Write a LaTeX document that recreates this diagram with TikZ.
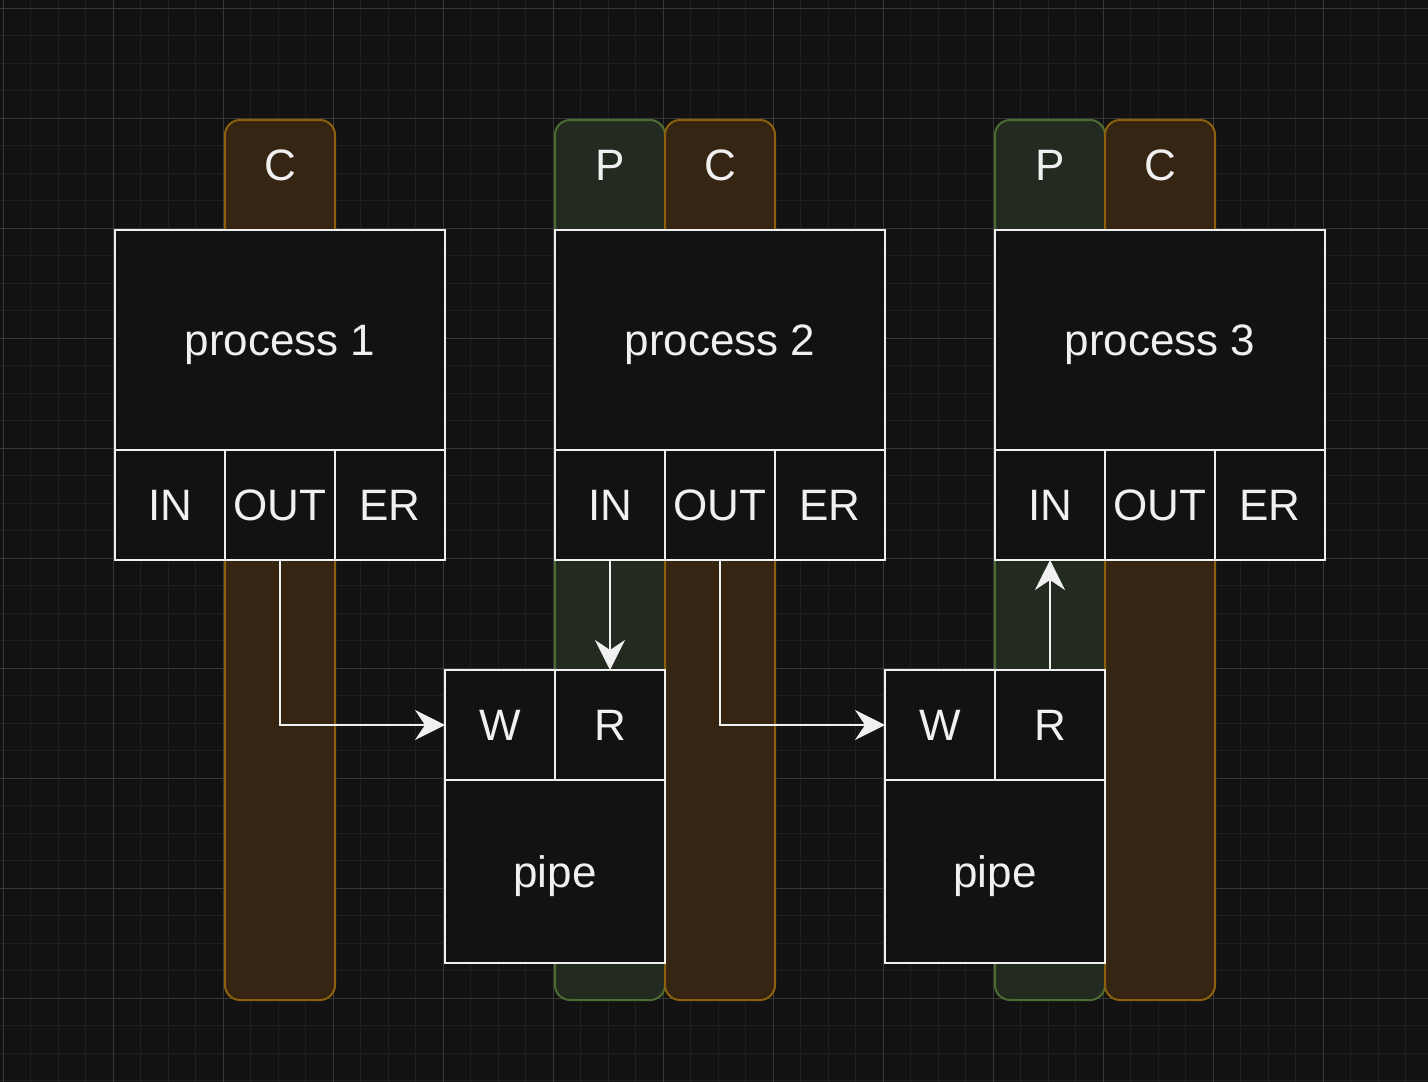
\documentclass[tikz,border=0pt]{standalone}
\usepackage{fontspec}
\setmainfont{Liberation Sans}
\usetikzlibrary{arrows.meta}
\definecolor{bg}{HTML}{121212}
\definecolor{gmin}{HTML}{1F1F1F}
\definecolor{gmaj}{HTML}{383838}
\definecolor{cfill}{HTML}{352512}
\definecolor{cline}{HTML}{8C5F0C}
\definecolor{pfill}{HTML}{232B21}
\definecolor{pline}{HTML}{4C6B30}
\definecolor{fg}{HTML}{F0F0F0}
\tikzset{
  col/.style={rounded corners=15pt, line width=2pt, minimum width=110pt, minimum height=880pt, anchor=north west, inner sep=0pt, outer sep=0pt},
  ccol/.style={col, fill=cfill, draw=cline},
  pcol/.style={col, fill=pfill, draw=pline},
  box/.style={draw=fg, fill=bg, line width=2.2pt, inner sep=0pt, outer sep=0pt, anchor=north west, text=fg, font=\fontsize{44}{50}\selectfont, text depth=0pt},
  lbl/.style={text=fg, font=\fontsize{44}{50}\selectfont, inner sep=0pt, text depth=0pt},
  arr/.style={draw=fg, line width=2pt, -{Stealth[length=30pt, width=30pt, inset=10pt]}},
}
\begin{document}
\begin{tikzpicture}[x=1pt, y=-1pt]
\fill[bg] (0,0) rectangle (1428,1082);
\useasboundingbox (0,0) rectangle (1428,1082);
% grid
\foreach \i in {0,...,52} \draw[gmin, line width=1pt] ({3+27.5*\i},0) -- ({3+27.5*\i},1082);
\foreach \i in {0,...,39} \draw[gmin, line width=1pt] (0,{8+27.5*\i}) -- (1428,{8+27.5*\i});
\foreach \i in {0,...,13} \draw[gmaj, line width=1pt] ({3+110*\i},0) -- ({3+110*\i},1082);
\foreach \i in {0,...,9} \draw[gmaj, line width=1pt] (0,{8+110*\i}) -- (1428,{8+110*\i});
% columns
\node[ccol] (c1) at (225,120) {};
\node[pcol] (p2) at (555,120) {};
\node[ccol] (c2) at (665,120) {};
\node[pcol] (p3) at (995,120) {};
\node[ccol] (c3) at (1105,120) {};
\node[lbl] (c1l) at (280,165) {C};
\node[lbl] (p2l) at (610,165) {P};
\node[lbl] (c2l) at (720,165) {C};
\node[lbl] (p3l) at (1050,165) {P};
\node[lbl] (c3l) at (1160,165) {C};
% processes
\foreach \n/\x in {1/115, 2/555, 3/995} {
  \node[box, minimum width=330pt, minimum height=220pt] (proc\n) at (\x,230) {process \n};
  \node[box, minimum width=110pt, minimum height=110pt] (in\n) at (\x,450) {IN};
  \node[box, minimum width=110pt, minimum height=110pt] (out\n) at ({\x+110},450) {OUT};
  \node[box, minimum width=110pt, minimum height=110pt] (er\n) at ({\x+220},450) {ER};
}
% pipes
\foreach \n/\x in {1/445, 2/885} {
  \node[box, minimum width=220pt, minimum height=183pt] (pipe\n) at (\x,780) {pipe};
  \node[box, minimum width=110pt, minimum height=110pt] (w\n) at (\x,670) {W};
  \node[box, minimum width=110pt, minimum height=110pt] (r\n) at ({\x+110},670) {R};
}
% connectors
\draw[arr] (out1.south) |- (w1.west);
\draw[arr] (in2.south) -- (r1.north);
\draw[arr] (out2.south) |- (w2.west);
\draw[arr] (r2.north) -- (in3.south);
\end{tikzpicture}
\end{document}
